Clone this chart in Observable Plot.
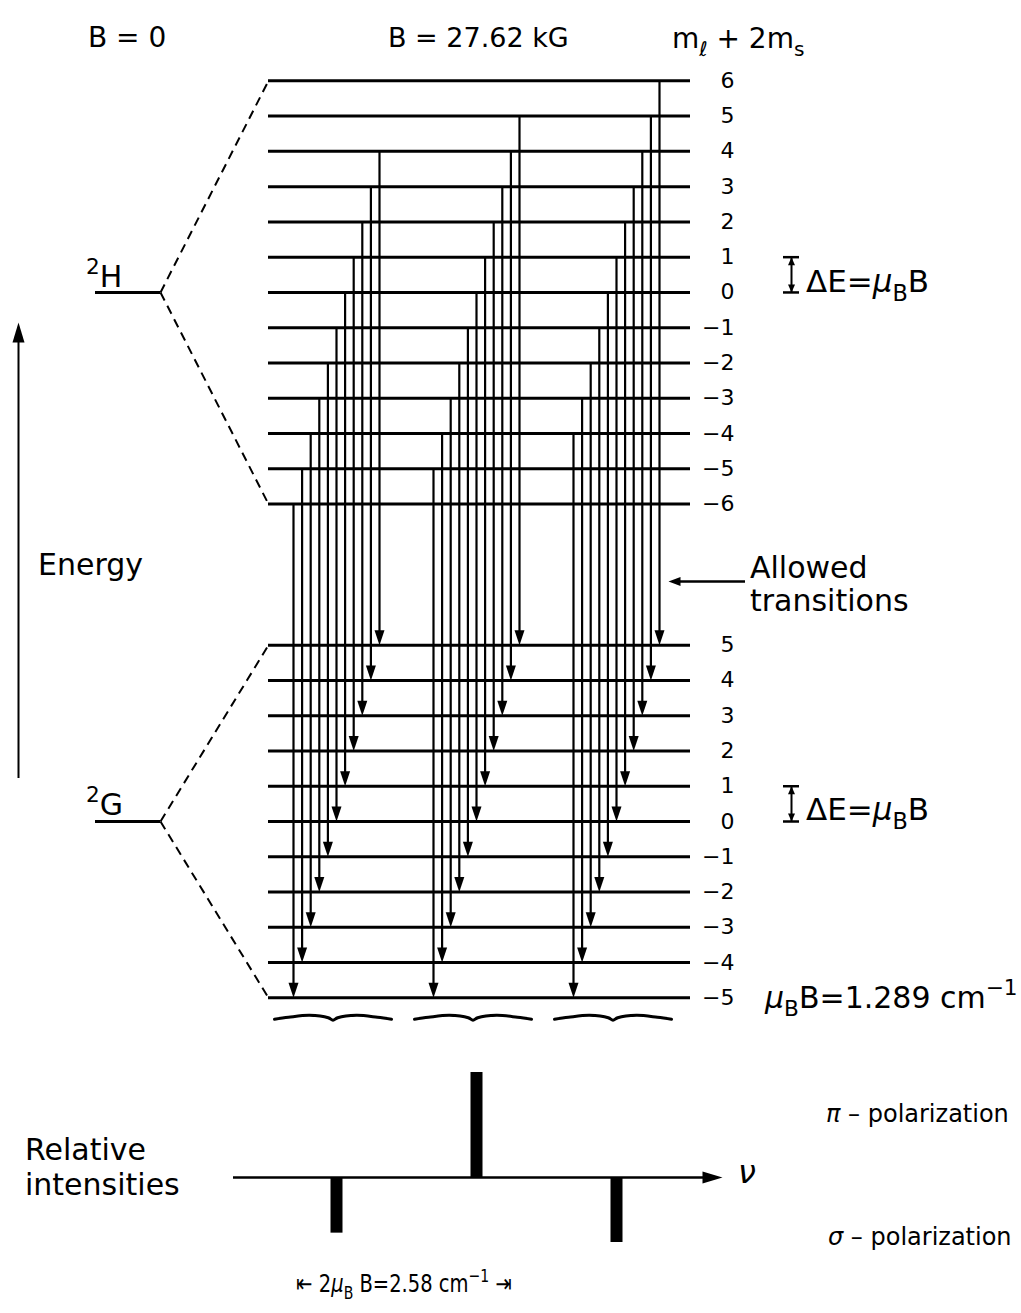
<!DOCTYPE html>
<html>
<head>
<meta charset="utf-8">
<script src="https://cdn.jsdelivr.net/npm/d3@7"></script>
<script src="https://cdn.jsdelivr.net/npm/@observablehq/plot@0.6"></script>
<style>
  html, body { margin: 0; padding: 0; background: #fff; }
  #chart svg { display: block; }
</style>
</head>
<body>
<div id="chart"></div>
<script>
// ---------------- data ----------------
const upperLevels = [6, 5, 4, 3, 2, 1, 0, -1, -2, -3, -4, -5, -6]; // ²H : mℓ + 2ms
const lowerLevels = [5, 4, 3, 2, 1, 0, -1, -2, -3, -4, -5];        // ²G : mℓ + 2ms
const termNames = ["H", "G"];
const termCenters = [15, 0];            // diagram energy of each term (units of μB·B)
const transitionShifts = [-1, 0, 1];    // allowed Δ(mℓ+2ms) = upper − lower
const lineShifts = [-1, 0, 1];          // spectral line positions (units of μB·B)
const linePolarization = ["σ", "π", "σ"];
const lineIntensities = [0.53, 1.0, 0.62];

// ---------------- derived tables ----------------
const transitions = [];
for (const u of upperLevels)
  for (const l of lowerLevels)
    if (transitionShifts.includes(u - l)) transitions.push({u, l, shift: u - l});

const spectrum = lineShifts.map((s, i) => ({
  shift: s, pol: linePolarization[i],
  value: linePolarization[i] === "π" ? lineIntensities[i] : -lineIntensities[i]
}));

// ---------------- layout ----------------
const W = 1021, H1 = 1040, H2 = 273;
const X_UNIT = 140, X_ZERO = 476;        // px per μB·B, px of line centre
const Y_UNIT = 35.27, Y_ZERO = 821;       // px per μB·B, px of ²G centre
const px = v => (v - X_ZERO) / X_UNIT;    // layout px -> x units
const ey = v => (Y_ZERO - v) / Y_UNIT;    // layout px -> energy units
const xDomain = [px(0), px(W)];
const STEP = 8.6 / X_UNIT;                // arrow spacing inside a group
const arrowX = d => d.shift + d.l * STEP;
const fmt = d => (d < 0 ? "\u2212" + (-d) : String(d));

function head(len, half) {
  return {draw(ctx) { ctx.moveTo(0, 0); ctx.lineTo(-half, -len); ctx.lineTo(half, -len); ctx.closePath(); }};
}
const headDown = head(15, 5);
const headBig = head(20, 6);
const headSmall = head(12, 4.5);
const headTiny = head(8, 3.5);

const connectors = [];
[upperLevels, lowerLevels].forEach((lv, i) => {
  const c = termCenters[i];
  connectors.push({x1: px(160), y1: c, x2: px(268), y2: c + d3.max(lv)});
  connectors.push({x1: px(160), y1: c, x2: px(268), y2: c + d3.min(lv)});
});

const braceShape = [[0,2],[0.12,0],[0.3,-2],[0.46,0.5],[0.5,3],[0.54,0.5],[0.7,-2],[0.88,0],[1,2]];
const braces = [];
for (const s of transitionShifts)
  for (const [t, dy] of braceShape)
    braces.push({g: s, x: s + (-62 + t * 117) / X_UNIT, y: d3.min(lowerLevels) - 0.55 - dy / Y_UNIT});

const brackets = termCenters.map(c => ({lo: c, hi: c + 1}));

const baseStyle = {fontFamily: "DejaVu Sans", color: "black", background: "white", overflow: "visible"};

const svg1 = Plot.plot({
  width: W, height: H1, margin: 0,
  x: {domain: xDomain, axis: null},
  y: {domain: [ey(H1), ey(0)], axis: null},
  style: baseStyle,
  marks: [
    Plot.ruleY(upperLevels, {y: d => termCenters[0] + d, x1: px(268), x2: px(690), strokeWidth: 3}),
    Plot.ruleY(lowerLevels, {y: d => termCenters[1] + d, x1: px(268), x2: px(690), strokeWidth: 3}),
    Plot.ruleY(termCenters, {y: d => d, x1: px(95), x2: px(160), strokeWidth: 3}),
    Plot.link(connectors, {x1: "x1", y1: "y1", x2: "x2", y2: "y2", strokeWidth: 2, strokeDasharray: "9,6"}),
    Plot.ruleX(transitions, {x: arrowX, y1: d => termCenters[0] + d.u, y2: d => termCenters[1] + d.l + 0.3, strokeWidth: 2.2}),
    Plot.dot(transitions, {x: arrowX, y: d => termCenters[1] + d.l, symbol: headDown, fill: "black", stroke: "none", r: 3}),
    Plot.text(upperLevels, {x: px(734), y: d => termCenters[0] + d, text: fmt, textAnchor: "end", fontSize: 22}),
    Plot.text(lowerLevels, {x: px(734), y: d => termCenters[1] + d, text: fmt, textAnchor: "end", fontSize: 22}),
    Plot.line(braces, {x: "x", y: "y", z: "g", curve: "catmull-rom", strokeWidth: 3}),
    // Energy axis arrow
    Plot.ruleX([0], {x: px(18), y1: ey(778), y2: ey(340), strokeWidth: 2}),
    Plot.dot([0], {x: px(18), y: ey(322), symbol: headBig, rotate: 180, fill: "black", stroke: "none", r: 3}),
    // Allowed transitions pointer
    Plot.ruleY([0], {y: ey(581), x1: px(678), x2: px(745), strokeWidth: 2.5}),
    Plot.dot([0], {x: px(668), y: ey(581), symbol: headSmall, rotate: 90, fill: "black", stroke: "none", r: 3}),
    // ΔE brackets
    Plot.ruleX(brackets, {x: px(791), y1: "lo", y2: "hi", strokeWidth: 2}),
    Plot.ruleY(brackets, {y: "lo", x1: px(783), x2: px(799), strokeWidth: 2.5}),
    Plot.ruleY(brackets, {y: "hi", x1: px(783), x2: px(799), strokeWidth: 2.5}),
    Plot.dot(brackets, {x: px(791), y: "lo", symbol: headTiny, fill: "black", stroke: "none", r: 3}),
    Plot.dot(brackets, {x: px(791), y: "hi", symbol: headTiny, rotate: 180, fill: "black", stroke: "none", r: 3})
  ]
});

const svg2 = Plot.plot({
  width: W, height: H2, margin: 0,
  x: {domain: xDomain, axis: null},
  y: {domain: [-(H2 - 137) / 105, 137 / 105], axis: null},
  style: baseStyle,
  marks: [
    Plot.ruleY([0], {x1: px(233), x2: px(705), strokeWidth: 2.5}),
    Plot.dot([0], {x: px(722), y: 0, symbol: headBig, rotate: -90, fill: "black", stroke: "none", r: 3}),
    Plot.ruleX(spectrum, {x: "shift", y1: 0, y2: "value", strokeWidth: 12})
  ]
});

function rich(svg, x, y, parts, size = 30, anchor = "start", sx = 1) {
  const t = d3.select(svg).append("text")
    .attr("transform", `translate(${x},${y}) scale(${sx},1)`)
    .attr("font-size", size)
    .attr("text-anchor", anchor).attr("fill", "black");
  let cur = 0;
  for (const p of parts) {
    const s = typeof p === "string" ? {t: p} : p;
    const small = s.sub || s.sup;
    const shift = s.sub ? size * 0.28 : s.sup ? -size * 0.42 : 0;
    const ts = t.append("tspan").text(s.t).attr("font-size", small ? size * 0.72 : size).attr("dy", shift - cur);
    if (s.it) ts.attr("font-style", "italic");
    cur = shift;
  }
  return t;
}

const mu = {t: "μ", it: 1}, subB = {t: "B", sub: 1};
rich(svg1, 88, 47, ["B = 0"], 28);
rich(svg1, 388, 47, ["B = 27.62 kG"], 27);
rich(svg1, 672, 48, ["m", {t: "ℓ", sub: 1, it: 1}, " + 2m", {t: "s", sub: 1}], 28);
rich(svg1, 86, 287, [{t: "2", sup: 1}, termNames[0]], 30);
rich(svg1, 86, 815, [{t: "2", sup: 1}, termNames[1]], 30);
rich(svg1, 38, 575, ["Energy"], 30);
rich(svg1, 750, 578, ["Allowed"], 30);
rich(svg1, 750, 611, ["transitions"], 30);
rich(svg1, 806, 292, ["ΔE=", mu, subB, "B"], 31);
rich(svg1, 806, 820, ["ΔE=", mu, subB, "B"], 31);
rich(svg1, 765, 1008, [mu, subB, "B=1.289 cm", {t: "\u22121", sup: 1}], 30);

rich(svg2, 25, 120, ["Relative"], 30);
rich(svg2, 25, 155, ["intensities"], 30);
rich(svg2, 738, 143, [{t: "ν", it: 1}], 32);
rich(svg2, 826, 82, [{t: "π", it: 1}, " \u2013 polarization"], 24);
rich(svg2, 828, 205, [{t: "σ", it: 1}, " \u2013 polarization"], 24);
rich(svg2, 404, 252, ["⇤ 2", mu, subB, " B=2.58 cm", {t: "\u22121", sup: 1}, " ⇥"], 25, "middle", 0.78);

document.getElementById("chart").append(svg1, svg2);
</script>
</body>
</html>
